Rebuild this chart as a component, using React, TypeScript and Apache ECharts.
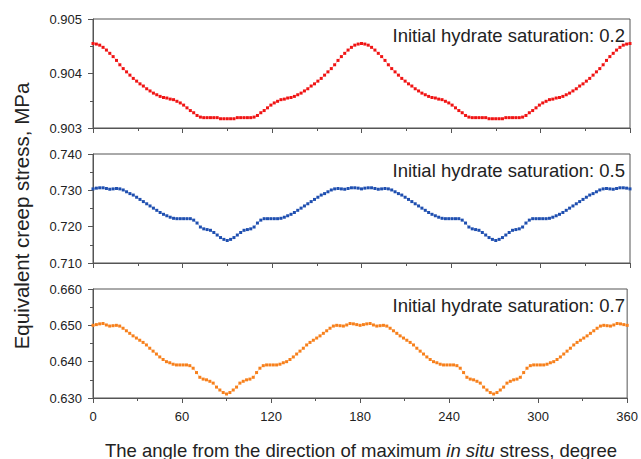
import React, { useEffect, useRef } from "react";
import * as echarts from "echarts";

const angles: number[] = Array.from({ length: 161 }, (_, i) => i * 2.25);

const xTicks = [0, 60, 120, 180, 240, 300, 360];

const stressS02: number[] = [
  0.90455,0.90454,0.90452,0.90448,0.90443,0.90437,0.90431,0.90424,0.90416,0.90409,
  0.90403,0.90397,0.90391,0.90386,0.90381,0.90377,0.90372,0.90368,0.90364,0.90361,
  0.90358,0.90356,0.90355,0.90353,0.90352,0.90349,0.90346,0.90342,0.90337,0.90332,
  0.90328,0.90323,0.90320,0.90319,0.90319,0.90319,0.90319,0.90319,0.90317,0.90317,
  0.90317,
  0.90317,0.90317,0.90319,0.90319,0.90319,0.90319,0.90319,0.90320,0.90323,0.90328,
  0.90332,0.90337,0.90342,0.90346,0.90349,0.90352,0.90353,0.90355,0.90356,0.90358,
  0.90361,0.90364,0.90368,0.90372,0.90377,0.90381,0.90386,0.90391,0.90397,0.90403,
  0.90409,0.90416,0.90424,0.90431,0.90437,0.90443,0.90448,0.90452,0.90454,0.90455,
  0.90454,0.90452,0.90448,0.90443,0.90437,0.90431,0.90424,0.90416,0.90409,0.90403,
  0.90397,0.90391,0.90386,0.90381,0.90377,0.90372,0.90368,0.90364,0.90361,0.90358,
  0.90356,0.90355,0.90353,0.90352,0.90349,0.90346,0.90342,0.90337,0.90332,0.90328,
  0.90323,0.90320,0.90319,0.90319,0.90319,0.90319,0.90319,0.90317,0.90317,0.90317,
  0.90317,0.90317,0.90319,0.90319,0.90319,0.90319,0.90319,0.90320,0.90323,0.90328,
  0.90332,0.90337,0.90342,0.90346,0.90349,0.90352,0.90353,0.90355,0.90356,0.90358,
  0.90361,0.90364,0.90368,0.90372,0.90377,0.90381,0.90386,0.90391,0.90397,0.90403,
  0.90409,0.90416,0.90424,0.90431,0.90437,0.90443,0.90448,0.90452,0.90454,0.90455,
];

const stressS05: number[] = [
  0.7304,0.7306,0.7307,0.7307,0.7305,0.7303,0.7304,0.7305,0.7304,0.7301,
  0.7296,0.7291,0.7287,0.7281,0.7275,0.7269,0.7263,0.7257,0.7251,0.7245,
  0.7239,0.7234,0.7230,0.7226,0.7223,0.7222,0.7222,0.7222,0.7222,0.7222,
  0.7218,0.7210,0.7199,0.7194,0.7192,0.7190,0.7184,0.7177,0.7170,0.7165,
  0.7162,
  0.7165,0.7170,0.7177,0.7184,0.7190,0.7192,0.7194,0.7199,0.7210,0.7218,
  0.7222,0.7222,0.7222,0.7222,0.7222,0.7223,0.7226,0.7230,0.7234,0.7239,
  0.7245,0.7251,0.7257,0.7263,0.7269,0.7275,0.7281,0.7287,0.7291,0.7296,
  0.7301,0.7304,0.7305,0.7304,0.7303,0.7305,0.7307,0.7307,0.7306,0.7304,
  0.7306,0.7307,0.7307,0.7305,0.7303,0.7304,0.7305,0.7304,0.7301,0.7296,
  0.7291,0.7287,0.7281,0.7275,0.7269,0.7263,0.7257,0.7251,0.7245,0.7239,
  0.7234,0.7230,0.7226,0.7223,0.7222,0.7222,0.7222,0.7222,0.7222,0.7218,
  0.7210,0.7199,0.7194,0.7192,0.7190,0.7184,0.7177,0.7170,0.7165,0.7162,
  0.7165,0.7170,0.7177,0.7184,0.7190,0.7192,0.7194,0.7199,0.7210,0.7218,
  0.7222,0.7222,0.7222,0.7222,0.7222,0.7223,0.7226,0.7230,0.7234,0.7239,
  0.7245,0.7251,0.7257,0.7263,0.7269,0.7275,0.7281,0.7287,0.7291,0.7296,
  0.7301,0.7304,0.7305,0.7304,0.7303,0.7305,0.7307,0.7307,0.7306,0.7304,
];

const stressS07: number[] = [
  0.6500,0.6502,0.6504,0.6505,0.6501,0.6498,0.6499,0.6500,0.6498,0.6492,
  0.6485,0.6478,0.6471,0.6465,0.6459,0.6453,0.6446,0.6437,0.6429,0.6421,
  0.6413,0.6406,0.6400,0.6397,0.6393,0.6391,0.6391,0.6391,0.6391,0.6389,
  0.6382,0.6370,0.6357,0.6352,0.6350,0.6346,0.6341,0.6330,0.6322,0.6315,
  0.6311,
  0.6315,0.6322,0.6330,0.6341,0.6346,0.6350,0.6352,0.6357,0.6370,0.6382,
  0.6389,0.6391,0.6391,0.6391,0.6391,0.6393,0.6397,0.6400,0.6406,0.6413,
  0.6421,0.6429,0.6437,0.6446,0.6453,0.6459,0.6465,0.6471,0.6478,0.6485,
  0.6492,0.6498,0.6500,0.6499,0.6498,0.6501,0.6505,0.6504,0.6502,0.6500,
  0.6502,0.6504,0.6505,0.6501,0.6498,0.6499,0.6500,0.6498,0.6492,0.6485,
  0.6478,0.6471,0.6465,0.6459,0.6453,0.6446,0.6437,0.6429,0.6421,0.6413,
  0.6406,0.6400,0.6397,0.6393,0.6391,0.6391,0.6391,0.6391,0.6389,0.6382,
  0.6370,0.6357,0.6352,0.6350,0.6346,0.6341,0.6330,0.6322,0.6315,0.6311,
  0.6315,0.6322,0.6330,0.6341,0.6346,0.6350,0.6352,0.6357,0.6370,0.6382,
  0.6389,0.6391,0.6391,0.6391,0.6391,0.6393,0.6397,0.6400,0.6406,0.6413,
  0.6421,0.6429,0.6437,0.6446,0.6453,0.6459,0.6465,0.6471,0.6478,0.6485,
  0.6492,0.6498,0.6500,0.6499,0.6498,0.6501,0.6505,0.6504,0.6502,0.6500,
];

const panelLabels = [
  "Initial hydrate saturation: 0.2",
  "Initial hydrate saturation: 0.5",
  "Initial hydrate saturation: 0.7",
];
const yRanges = [
  { min: 0.903, max: 0.905, interval: 0.001 },
  { min: 0.71, max: 0.74, interval: 0.01 },
  { min: 0.63, max: 0.66, interval: 0.01 },
];
const seriesValues = [stressS02, stressS05, stressS07];
const colors = ["#f01414", "#1f4fb0", "#f7801c"];

const FONT = "'Liberation Sans', Arial, sans-serif";
const AXIS = "#555555";
const TXT = "#222222";

export default function App() {
  const ref = useRef<HTMLDivElement>(null);
  useEffect(() => {
    if (!ref.current) return;
    const chart = echarts.init(ref.current, undefined, { renderer: "svg" });
    const tops = [19, 154, 289];
    const grids = tops.map((t) => ({
      left: 93,
      top: t,
      width: 537,
      height: 109,
      show: true,
      borderColor: AXIS,
      borderWidth: 1,
      backgroundColor: "transparent",
    }));
    const xAxes = tops.map((_, i) => ({
      type: "value",
      gridIndex: i,
      min: xTicks[0],
      max: xTicks[xTicks.length - 1],
      interval: 60,
      axisLine: { show: true, lineStyle: { color: AXIS, width: 1 } },
      axisTick: { show: true, inside: false, length: 5, lineStyle: { color: AXIS } },
      minorTick: { show: true, splitNumber: 2, length: 3, lineStyle: { color: AXIS } },
      splitLine: { show: false },
      axisLabel: {
        show: i === 2,
        margin: 12,
        fontSize: 13,
        fontFamily: FONT,
        color: TXT,
      },
    }));
    const yAxes = yRanges.map((r, i) => ({
      type: "value",
      gridIndex: i,
      min: r.min,
      max: r.max,
      interval: r.interval,
      axisLine: { show: true, lineStyle: { color: AXIS, width: 1 } },
      axisTick: { show: true, inside: false, length: 5, lineStyle: { color: AXIS } },
      minorTick: { show: true, splitNumber: 2, length: 3, lineStyle: { color: AXIS } },
      splitLine: { show: false },
      axisLabel: {
        margin: 11,
        fontSize: 13,
        fontFamily: FONT,
        color: TXT,
        formatter: (v: number) => v.toFixed(3),
      },
    }));
    const series = seriesValues.map((vals, i) => ({
      type: "line",
      xAxisIndex: i,
      yAxisIndex: i,
      data: angles.map((a, k) => [a, vals[k]]),
      symbol: "rect",
      symbolSize: 3,
      showSymbol: true,
      itemStyle: { color: colors[i] },
      lineStyle: { color: colors[i], width: 1, opacity: 0.3 },
      emphasis: { disabled: true },
    }));
    const annot = panelLabels.map((t, i) => ({
      type: "text",
      x: 625,
      y: tops[i] + 16,
      style: {
        text: t,
        fill: TXT,
        fontSize: 18.5,
        fontFamily: FONT,
        textAlign: "right",
        textVerticalAlign: "middle",
        verticalAlign: "middle",
      },
    }));
    chart.setOption({
      animation: false,
      grid: grids,
      xAxis: xAxes,
      yAxis: yAxes,
      series,
      graphic: [
        ...annot,
        {
          type: "text",
          x: 21,
          y: 216,
          rotation: Math.PI / 2,
          style: {
            text: "Equivalent creep stress, MPa",
            fill: TXT,
            fontSize: 20.5,
            fontFamily: FONT,
            textAlign: "center",
            textVerticalAlign: "middle",
            verticalAlign: "middle",
          },
        },
        {
          type: "text",
          x: 361,
          y: 450,
          style: {
            text: "The angle from the direction of maximum {i|in situ} stress, degree",
            fill: TXT,
            fontSize: 18.5,
            fontFamily: FONT,
            textAlign: "center",
            textVerticalAlign: "middle",
            verticalAlign: "middle",
            rich: {
              i: { fontStyle: "italic", fontSize: 18.5, fontFamily: FONT, fill: TXT, color: TXT },
            },
          },
        },
      ],
    });
    return () => chart.dispose();
  }, []);
  return (
    <div
      ref={ref}
      style={{ position: "fixed", left: 0, top: 0, width: 641, height: 459, background: "#fff" }}
    />
  );
}
